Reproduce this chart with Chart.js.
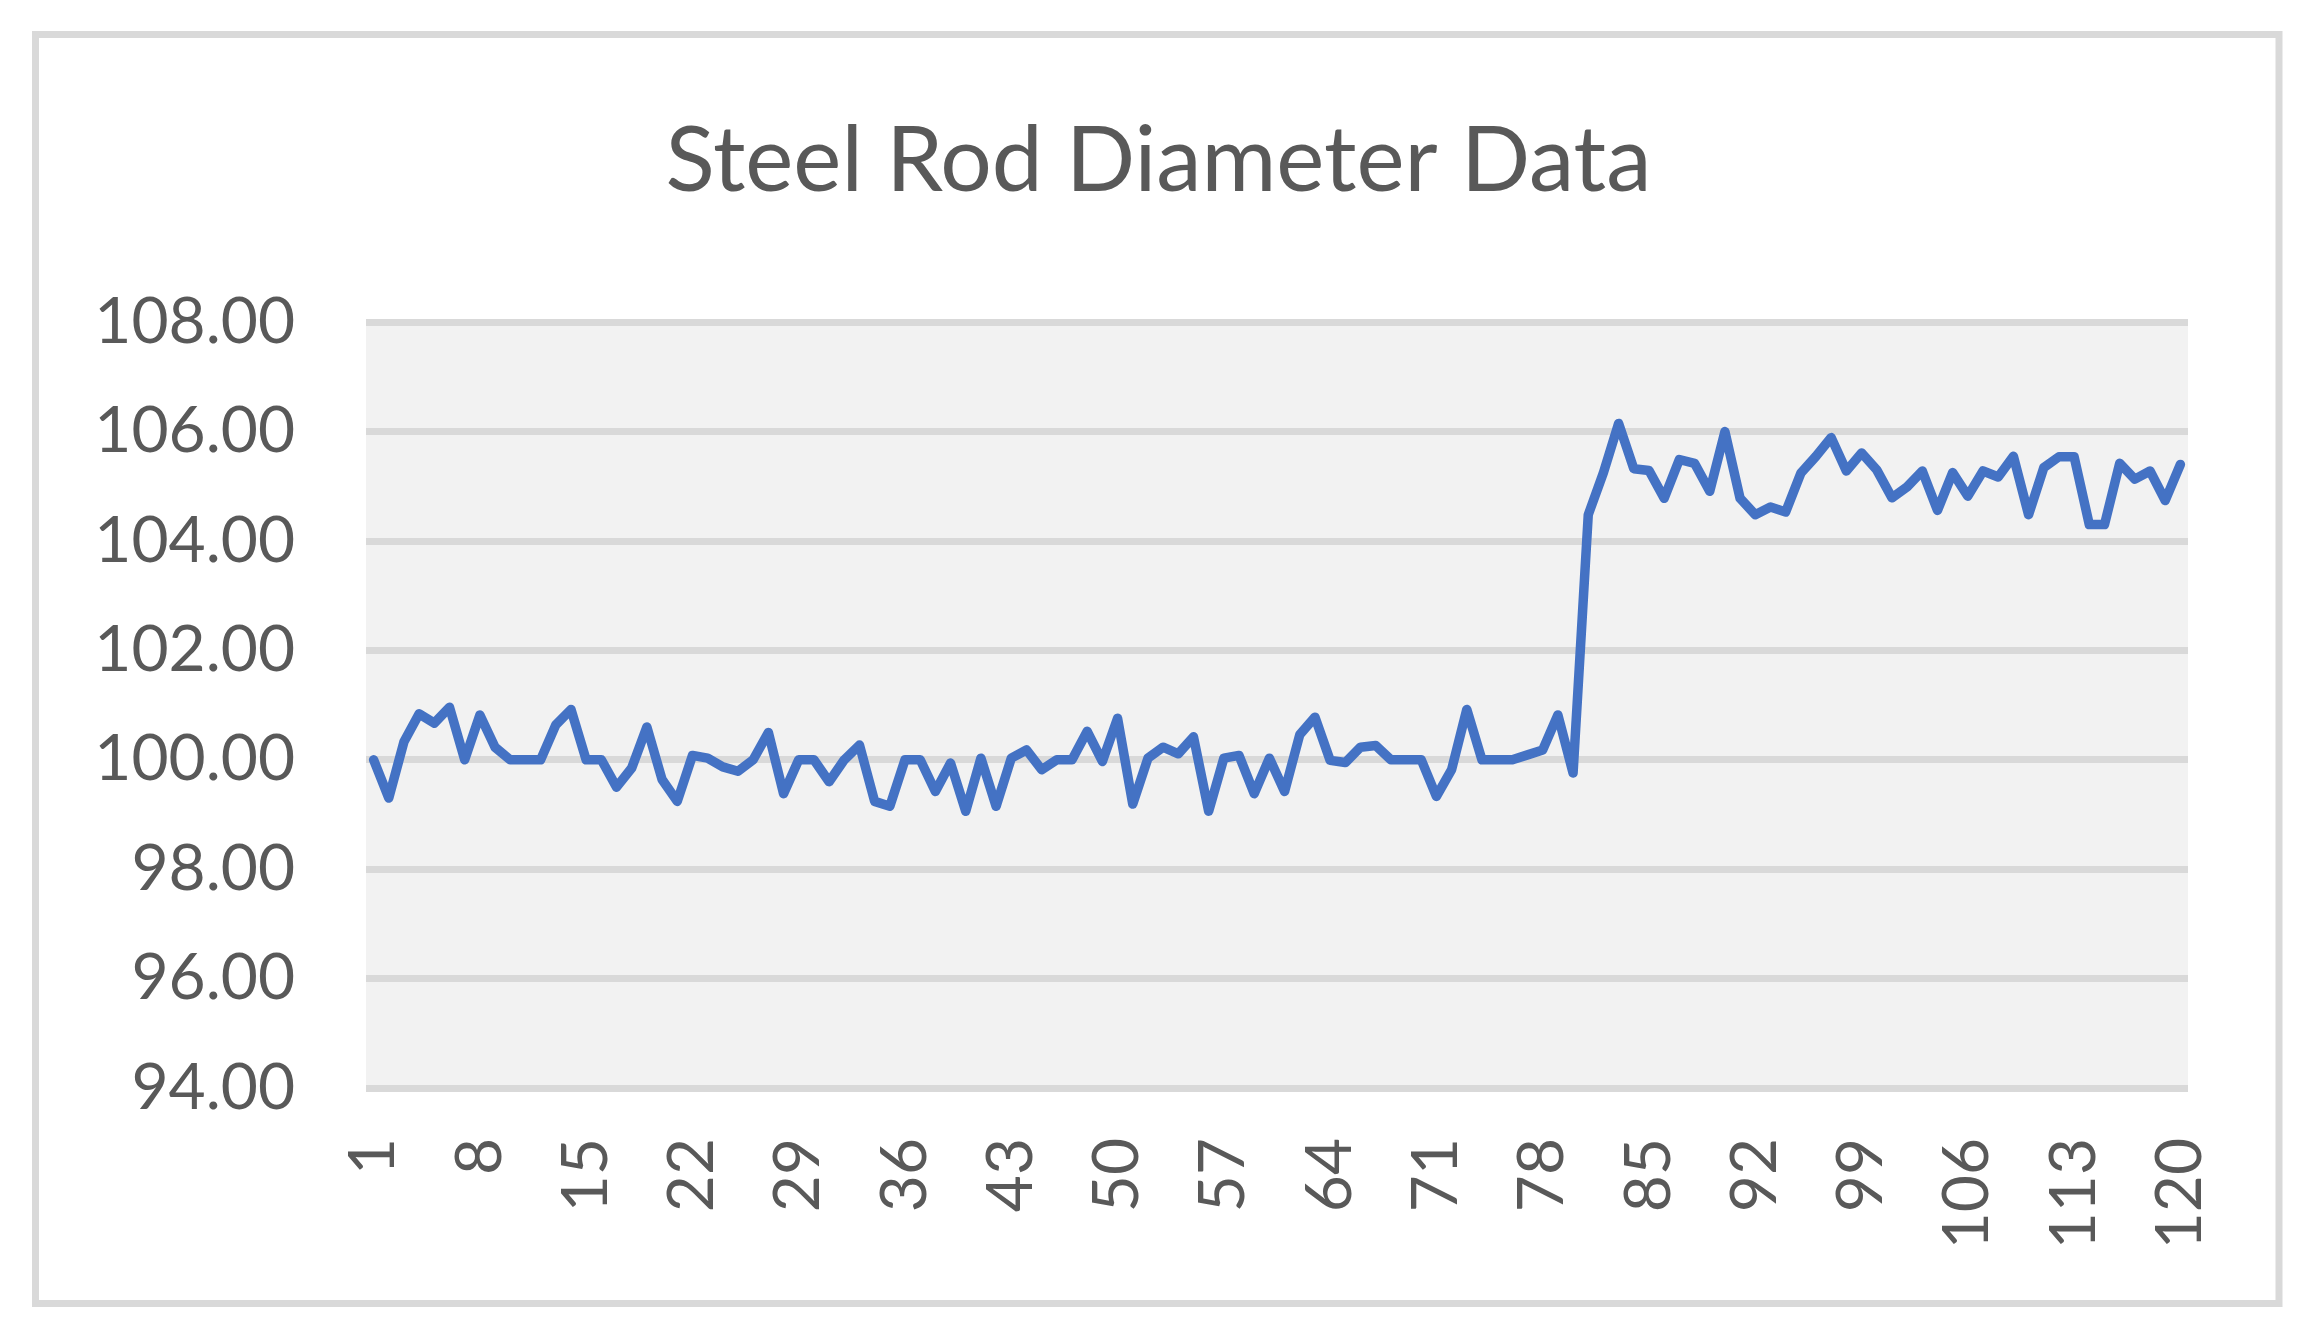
<!DOCTYPE html>
<html>
<head>
<meta charset="utf-8">
<script src="https://cdn.jsdelivr.net/npm/chart.js@4.4.1/dist/chart.umd.min.js"></script>
<style>
  html, body { margin: 0; padding: 0; background: #ffffff; }
  #wrap { width: 2317px; height: 1339px; position: relative; }
</style>
</head>
<body>
<div id="wrap"><canvas id="c"></canvas></div>
<script>
const chartTitle = "Steel Rod Diameter Data";

const categories = Array.from({ length: 120 }, (_, i) => String(i + 1));

const diameters = [
  100.00, 99.30, 100.33, 100.84, 100.67, 100.96, 100.00, 100.82, 100.23, 100.00,
  100.00, 100.00, 100.64, 100.92, 100.00, 100.00, 99.50, 99.85, 100.60, 99.64,
  99.24, 100.08, 100.03, 99.87, 99.79, 100.00, 100.50, 99.38, 100.00, 100.00,
  99.60, 100.00, 100.27, 99.24, 99.15, 100.00, 100.00, 99.42, 99.94, 99.06,
  100.03, 99.15, 100.03, 100.18, 99.82, 100.00, 100.00, 100.52, 99.97, 100.76,
  99.19, 100.03, 100.23, 100.11, 100.42, 99.06, 100.03, 100.08, 99.38, 100.03,
  99.42, 100.46, 100.78, 99.99, 99.95, 100.23, 100.26, 100.00, 100.00, 100.00,
  99.33, 99.82, 100.92, 100.00, 100.00, 100.00, 100.09, 100.18, 100.82, 99.76,
  104.48, 105.25, 106.15, 105.32, 105.29, 104.78, 105.49, 105.42, 104.91, 106.00,
  104.78, 104.48, 104.62, 104.53, 105.24, 105.55, 105.89, 105.28, 105.61, 105.30,
  104.79, 104.99, 105.28, 104.56, 105.25, 104.82, 105.28, 105.17, 105.55, 104.48,
  105.34, 105.54, 105.54, 104.30, 104.30, 105.42, 105.13, 105.28, 104.74, 105.40
];

const yMin = 94;
const yMax = 108;
const yStep = 2;
const xLabelEvery = 7;

const textColor = "#595959";
const fontFamily = "Lato, 'Open Sans', 'Noto Sans', sans-serif";

const framePlugin = {
  id: "frame",
  beforeDraw(chart) {
    const ctx = chart.ctx;
    const a = chart.chartArea;
    ctx.save();
    ctx.fillStyle = "#ffffff";
    ctx.fillRect(0, 0, chart.width, chart.height);
    ctx.strokeStyle = "#d9d9d9";
    ctx.lineWidth = 7;
    ctx.strokeRect(35.5, 34.5, 2279 - 35.5, 1303.5 - 34.5);
    ctx.fillStyle = "#f2f2f2";
    ctx.fillRect(a.left, a.top, a.right - a.left, a.bottom - a.top);
    ctx.restore();
  }
};

new Chart(document.getElementById("c"), {
  type: "line",
  data: {
    labels: categories,
    datasets: [{
      data: diameters,
      borderColor: "#4472c4",
      borderWidth: 9.5,
      pointRadius: 0,
      tension: 0,
      fill: false,
      borderJoinStyle: "round",
      borderCapStyle: "round"
    }]
  },
  options: {
    responsive: true,
    maintainAspectRatio: false,
    devicePixelRatio: 1,
    animation: false,
    layout: { padding: { left: 0, right: 0, top: 0, bottom: 0 } },
    plugins: {
      legend: { display: false },
      tooltip: { enabled: false },
      title: {
        display: true,
        text: chartTitle,
        color: textColor,
        font: { family: fontFamily, size: 91, weight: "normal", lineHeight: 1.2 },
        padding: { top: 107, bottom: 106 }
      }
    },
    scales: {
      x: {
        type: "category",
        offset: true,
        grid: { display: false, drawTicks: false },
        border: { display: false },
        ticks: {
          autoSkip: false,
          minRotation: 90,
          maxRotation: 90,
          padding: 50,
          color: textColor,
          font: { family: fontFamily, size: 64 },
          callback: function (v, i) { return i % xLabelEvery === 0 ? categories[i] : ""; }
        },
        afterFit(scale) { scale.height = 1339 - 1088; }
      },
      y: {
        min: yMin,
        max: yMax,
        grid: { color: "#d9d9d9", lineWidth: 7, drawTicks: false },
        border: { display: false },
        ticks: {
          stepSize: yStep,
          padding: 71,
          color: textColor,
          font: { family: fontFamily, size: 64 },
          callback: function (v) { return Number(v).toFixed(2); }
        },
        afterFit(scale) { scale.width = 366; }
      },
      yRight: {
        position: "right",
        min: yMin,
        max: yMax,
        grid: { display: false, drawTicks: false },
        border: { display: false },
        ticks: { display: false },
        afterFit(scale) { scale.width = 2317 - 2188; }
      }
    }
  },
  plugins: [framePlugin]
});
</script>
</body>
</html>
